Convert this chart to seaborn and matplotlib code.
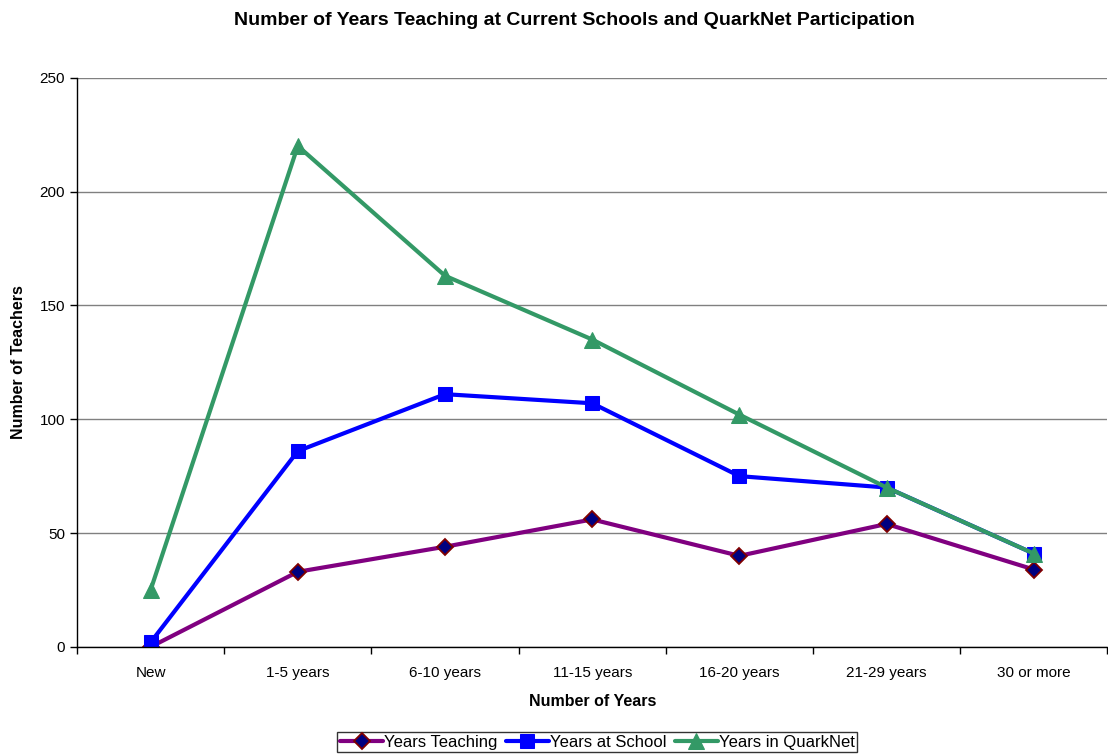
import matplotlib
matplotlib.use('Agg')
import matplotlib.pyplot as plt
import seaborn as sns
import pandas as pd

categorias = ['New', '1-5 years', '6-10 years', '11-15 years', '16-20 years', '21-29 years', '30 or more']
anos_ensino = [0, 33, 44, 56, 40, 54, 34]
anos_escola = [2, 86, 111, 107, 75, 70, 41]
anos_quarknet = [25, 220, 163, 135, 102, 70, 41]

sns.set_style('white')
plt.rcParams['font.family'] = ['Liberation Sans', 'DejaVu Sans']
plt.rcParams['text.color'] = 'black'
plt.rcParams['axes.labelcolor'] = 'black'
plt.rcParams['xtick.color'] = 'black'
plt.rcParams['ytick.color'] = 'black'

df = pd.DataFrame({
    'Categoria': categorias * 3,
    'Valor': anos_ensino + anos_escola + anos_quarknet,
    'Serie': ['Years Teaching'] * 7 + ['Years at School'] * 7 + ['Years in QuarkNet'] * 7,
})
df['pos'] = df['Categoria'].map({c: i for i, c in enumerate(categorias)})

fig = plt.figure(figsize=(11.08, 7.54), dpi=100)
ax = fig.add_axes([0.0695, 0.142, 0.93, 0.755])

estilos = {
    'Years Teaching': dict(color='#800080', marker='D', markersize=8,
                           markerfacecolor='#000080', markeredgecolor='#800000', markeredgewidth=1.3),
    'Years at School': dict(color='#0000FF', marker='s', markersize=10.5,
                            markerfacecolor='#0000FF', markeredgecolor='#0000FF'),
    'Years in QuarkNet': dict(color='#339966', marker='^', markersize=11.5,
                              markerfacecolor='#339966', markeredgecolor='#339966'),
}
for serie, st in estilos.items():
    sub = df[df['Serie'] == serie]
    sns.lineplot(data=sub, x='pos', y='Valor', ax=ax, label=serie, linewidth=3,
                 **st)

ax.set_xlim(-0.5, 6.5)
ax.set_ylim(0, 250)
ax.set_yticks(range(0, 251, 50))
ax.set_xticks(range(7))
ax.set_xticklabels(categorias, fontsize=11)
ax.set_xticks([i + 0.5 for i in range(-1, 7)], minor=True)
ax.tick_params(axis='x', which='major', bottom=False, length=0, pad=14)
ax.tick_params(axis='x', which='minor', bottom=True, length=5, width=1, direction='out', color='black')
ax.tick_params(axis='y', length=5, width=1, direction='out', color='black', labelsize=11, left=True)
ax.yaxis.grid(True, color='#808080', linewidth=1)
ax.set_axisbelow(True)
for s in ['top', 'right']:
    ax.spines[s].set_visible(False)
for s in ['left', 'bottom']:
    ax.spines[s].set_color('black')
    ax.spines[s].set_linewidth(1)

ax.set_xlabel('Number of Years', fontsize=11.5, fontweight='bold', labelpad=10)
ax.set_ylabel('Number of Teachers', fontsize=11.5, fontweight='bold', labelpad=10)
fig.suptitle('Number of Years Teaching at Current Schools and QuarkNet Participation',
             fontsize=14, fontweight='bold', x=0.518, y=0.984)

leg = ax.legend(loc='center', bbox_to_anchor=(0.505, -0.167), ncol=3, frameon=True,
                fancybox=False, edgecolor='black', fontsize=12, handlelength=2.6,
                handletextpad=0.05, columnspacing=0.5, borderpad=0.15)
leg.get_frame().set_linewidth(1)

plt.savefig('out.png', dpi=100)
plt.close()
